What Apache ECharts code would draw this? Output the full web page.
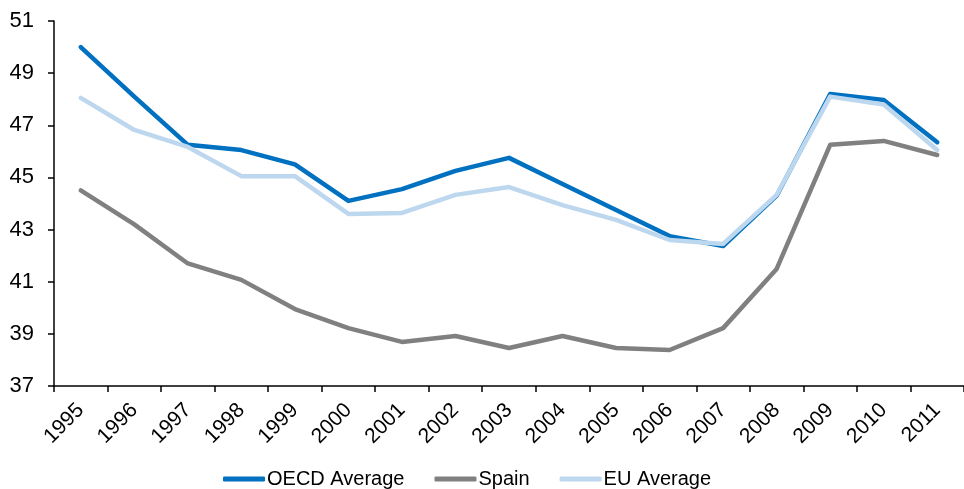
<!DOCTYPE html>
<html><head><meta charset="utf-8">
<script src="https://cdn.jsdelivr.net/npm/echarts@6/dist/echarts.min.js"></script>
<style>html,body{margin:0;padding:0;background:#fff}#c{width:964px;height:489px}</style>
</head><body><div id="c"></div>
<script>
const years = ['1995','1996','1997','1998','1999','2000','2001','2002','2003','2004','2005','2006','2007','2008','2009','2010','2011'];
const oecd = [50.0,48.1,46.25,46.05,45.5,44.1,44.55,45.25,45.75,44.75,43.75,42.75,42.37,44.3,48.2,47.97,46.35];
const spain = [44.5,43.2,41.7,41.07,39.95,39.22,38.69,38.92,38.46,38.92,38.46,38.38,39.22,41.49,46.25,46.4,45.86];
const eu = [48.05,46.82,46.17,45.05,45.05,43.6,43.64,44.33,44.63,43.94,43.37,42.6,42.45,44.33,48.1,47.8,46.05];
const yTicks = {min:37, max:51, interval:2};

const chart = echarts.init(document.getElementById('c'), null, {renderer:'canvas'});
const font = 'Liberation Sans, Arial, sans-serif';
function line(name, data, color){
  return {name, type:'line', data, symbol:'none', smooth:false,
    lineStyle:{color, width:4.5, cap:'round', join:'round'}, itemStyle:{color}};
}
chart.setOption({
  animation:false,
  grid:{left:54, right:-5, top:21, bottom:103, containLabel:false},
  legend:{bottom:-5, left:218, itemWidth:42, itemHeight:5, itemGap:30, icon:'roundRect',
    textStyle:{fontFamily:font, fontSize:20, color:'#000', padding:[0,0,0,-3]},
    data:['OECD Average','Spain','EU Average']},
  xAxis:{type:'category', data:years, boundaryGap:true,
    axisLine:{lineStyle:{color:'#000', width:1.5}},
    axisTick:{show:true, length:6, lineStyle:{color:'#000', width:1.5}},
    axisLabel:{rotate:45, fontFamily:font, fontSize:21, color:'#000', margin:21, interval:0}},
  yAxis:{type:'value', min:yTicks.min, max:yTicks.max, interval:yTicks.interval,
    splitLine:{show:false},
    axisLine:{show:true, lineStyle:{color:'#000', width:1.5}},
    axisTick:{show:true, length:6, lineStyle:{color:'#000', width:1.5}},
    axisLabel:{fontFamily:font, fontSize:22, color:'#000', margin:20}},
  series:[line('OECD Average', oecd, '#0070C0'), line('Spain', spain, '#808080'), line('EU Average', eu, '#BDD7EE')]
});
</script></body></html>
